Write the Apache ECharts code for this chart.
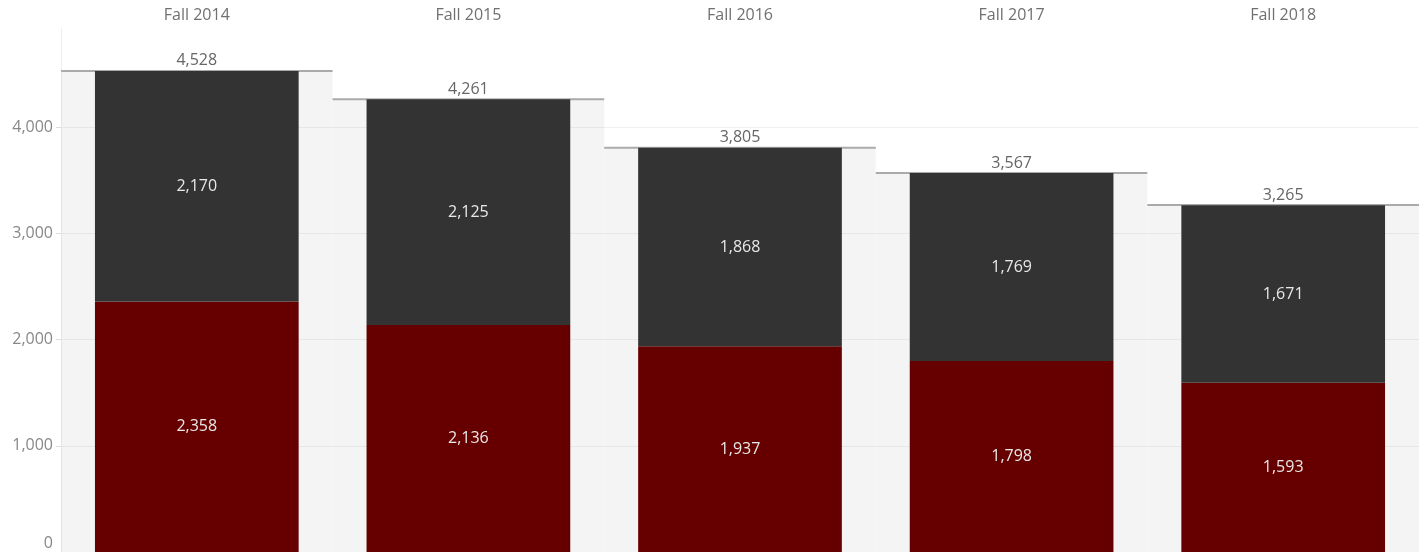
<!DOCTYPE html>
<html>
<head>
<meta charset="utf-8">
<script src="https://cdn.jsdelivr.net/npm/echarts@6/dist/echarts.min.js"></script>
<style>
html,body{margin:0;padding:0;background:#fff;}
#chart{width:1427px;height:552px;}
</style>
</head>
<body>
<div id="chart"></div>
<script>
var terms = ['Fall 2014', 'Fall 2015', 'Fall 2016', 'Fall 2017', 'Fall 2018'];
var lower = [2358, 2136, 1937, 1798, 1593];
var upper = [2170, 2125, 1868, 1769, 1671];
var totals = [4528, 4261, 3805, 3567, 3265];
var yTicks = [0, 1000, 2000, 3000, 4000];

var font = 'Open Sans';
var chart = echarts.init(document.getElementById('chart'));

function fmt(v){
	return Number(v).toLocaleString('en-US');
}

// gray band from 0 to total over the whole column, with the total line and label
function drawBand(params, api){
	var i = api.value(0);
	var tot = api.value(1);
	var w = api.size([1, 0])[0];
	var top = api.coord([i, tot]);
	var bot = api.coord([i, 0]);
	var x0 = top[0] - w / 2;
	return {
		type: 'group',
		children: [{
			type: 'rect',
			shape: {x: x0, y: top[1], width: w, height: bot[1] - top[1]},
			style: {fill: 'rgba(0,0,0,0.045)'}
		}, {
			type: 'line',
			shape: {x1: x0, y1: top[1], x2: x0 + w, y2: top[1]},
			style: {stroke: '#aaaaaa', lineWidth: 2}
		}, {
			type: 'text',
			x: top[0],
			y: top[1] - 2,
			style: {
				text: fmt(tot),
				fill: '#666666',
				font: '16px "' + font + '"',
				align: 'center',
				verticalAlign: 'bottom'
			}
		}]
	};
}

var option = {
	animation: false,
	grid: {left: 61, right: 8, top: 28, bottom: 0},
	xAxis: {
		type: 'category',
		position: 'top',
		data: terms,
		axisLine: {show: false},
		axisTick: {show: false},
		axisLabel: {color: '#707070', fontFamily: font, fontSize: 16, margin: 5}
	},
	yAxis: {
		type: 'value',
		min: 0,
		max: 4932,
		interval: 1000,
		axisLine: {show: true, lineStyle: {color: '#eeeeee'}},
		axisTick: {show: true, length: 5, customValues: yTicks, lineStyle: {color: '#dddddd'}},
		splitLine: {lineStyle: {color: ['#f1f1f1', '#f1f1f1', '#f1f1f1', '#f1f1f1', '#f1f1f1', 'rgba(0,0,0,0)']}},
		axisLabel: {
			color: '#888888', fontFamily: font, fontSize: 16, margin: 8,
			customValues: yTicks,
			formatter: function(v){
				if(v == 0) return '{z|0}';
				return fmt(v);
			},
			rich: {z: {color: '#888888', fontFamily: font, fontSize: 16, padding: [0, 0, 18, 0]}}
		}
	},
	series: [{
		type: 'custom',
		z: 1,
		renderItem: drawBand,
		data: totals.map(function(t, i){ return [i, t]; })
	}, {
		name: 'lower',
		type: 'bar',
		stack: 'a',
		z: 3,
		barCategoryGap: '25%',
		data: lower,
		itemStyle: {color: '#660000'},
		label: {show: true, position: 'inside', color: '#e8e8e8', fontFamily: font, fontSize: 16,
			formatter: function(p){ return fmt(p.value); }}
	}, {
		name: 'upper',
		type: 'bar',
		stack: 'a',
		z: 3,
		barCategoryGap: '25%',
		data: upper,
		itemStyle: {color: '#333333'},
		label: {show: true, position: 'inside', color: '#e8e8e8', fontFamily: font, fontSize: 16,
			formatter: function(p){ return fmt(p.value); }}
	}]
};
chart.setOption(option);
</script>
</body>
</html>
